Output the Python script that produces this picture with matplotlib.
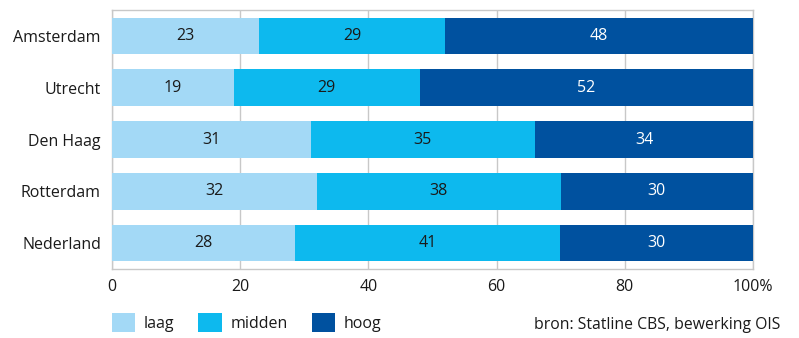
import matplotlib
matplotlib.use("Agg")
import matplotlib.pyplot as plt
import numpy as np

plt.rcParams['font.family'] = ['Open Sans', 'DejaVu Sans']

categories = ["Amsterdam", "Utrecht", "Den Haag", "Rotterdam", "Nederland"]
laag = [23, 19, 31, 32, 28.5]
midden = [29, 29, 35, 38, 41.45]
hoog = [48, 52, 34, 30, 30.05]
series_names = ["laag", "midden", "hoog"]
colors = ["#A3D9F6", "#0DB9EE", "#00519F"]
text_colors = ["#1a1a1a", "#1a1a1a", "white"]
xticks = [0, 20, 40, 60, 80, 100]
xticklabels = ["0", "20", "40", "60", "80", "100%"]
source = "bron: Statline CBS, bewerking OIS"

FS = 11.5
fig = plt.figure(figsize=(7.99, 3.38), dpi=100)
ax = fig.add_axes([112/799, 1-269/338, (753-112)/799, (269-10)/338])

y = np.arange(len(categories))
left = np.zeros(len(categories))
handles = []
for vals, name, col, tc in zip([laag, midden, hoog], series_names, colors, text_colors):
    vals = np.array(vals, dtype=float)
    b = ax.barh(y, vals, left=left, height=0.71, color=col, label=name, zorder=3)
    handles.append(b)
    for yi, l, v in zip(y, left, vals):
        ax.text(l + v/2, yi, f"{v:.0f}", ha="center", va="center", color=tc,
                fontsize=FS, zorder=4)
    left += vals

ax.set_xlim(0, 100)
ax.set_ylim(len(categories) - 0.5, -0.5)
ax.set_yticks(y)
ax.set_yticklabels(categories, fontsize=FS, color="#1a1a1a")
ax.set_xticks(xticks)
ax.set_xticklabels(xticklabels, fontsize=FS, color="#1a1a1a")
ax.tick_params(axis="x", length=0, pad=7)
ax.tick_params(axis="y", length=0, pad=8)
ax.grid(axis="x", color="#c8c8c8", linewidth=1, zorder=0)
for s in ax.spines.values():
    s.set_color("#c8c8c8")
    s.set_linewidth(1)

leg = fig.legend(handles=handles, labels=series_names, loc="center left",
                 bbox_to_anchor=(112/799, 1-322.5/338), ncol=3, frameon=False,
                 fontsize=FS, handlelength=1.45, handleheight=1.45,
                 handletextpad=0.55, columnspacing=1.5, borderaxespad=0, borderpad=0)
for t in leg.get_texts():
    t.set_color("#1a1a1a")

fig.text(780/799, 1-325/338, source, ha="right", va="center", fontsize=11.3, color="#1a1a1a")

fig.savefig("out.png", dpi=100)
